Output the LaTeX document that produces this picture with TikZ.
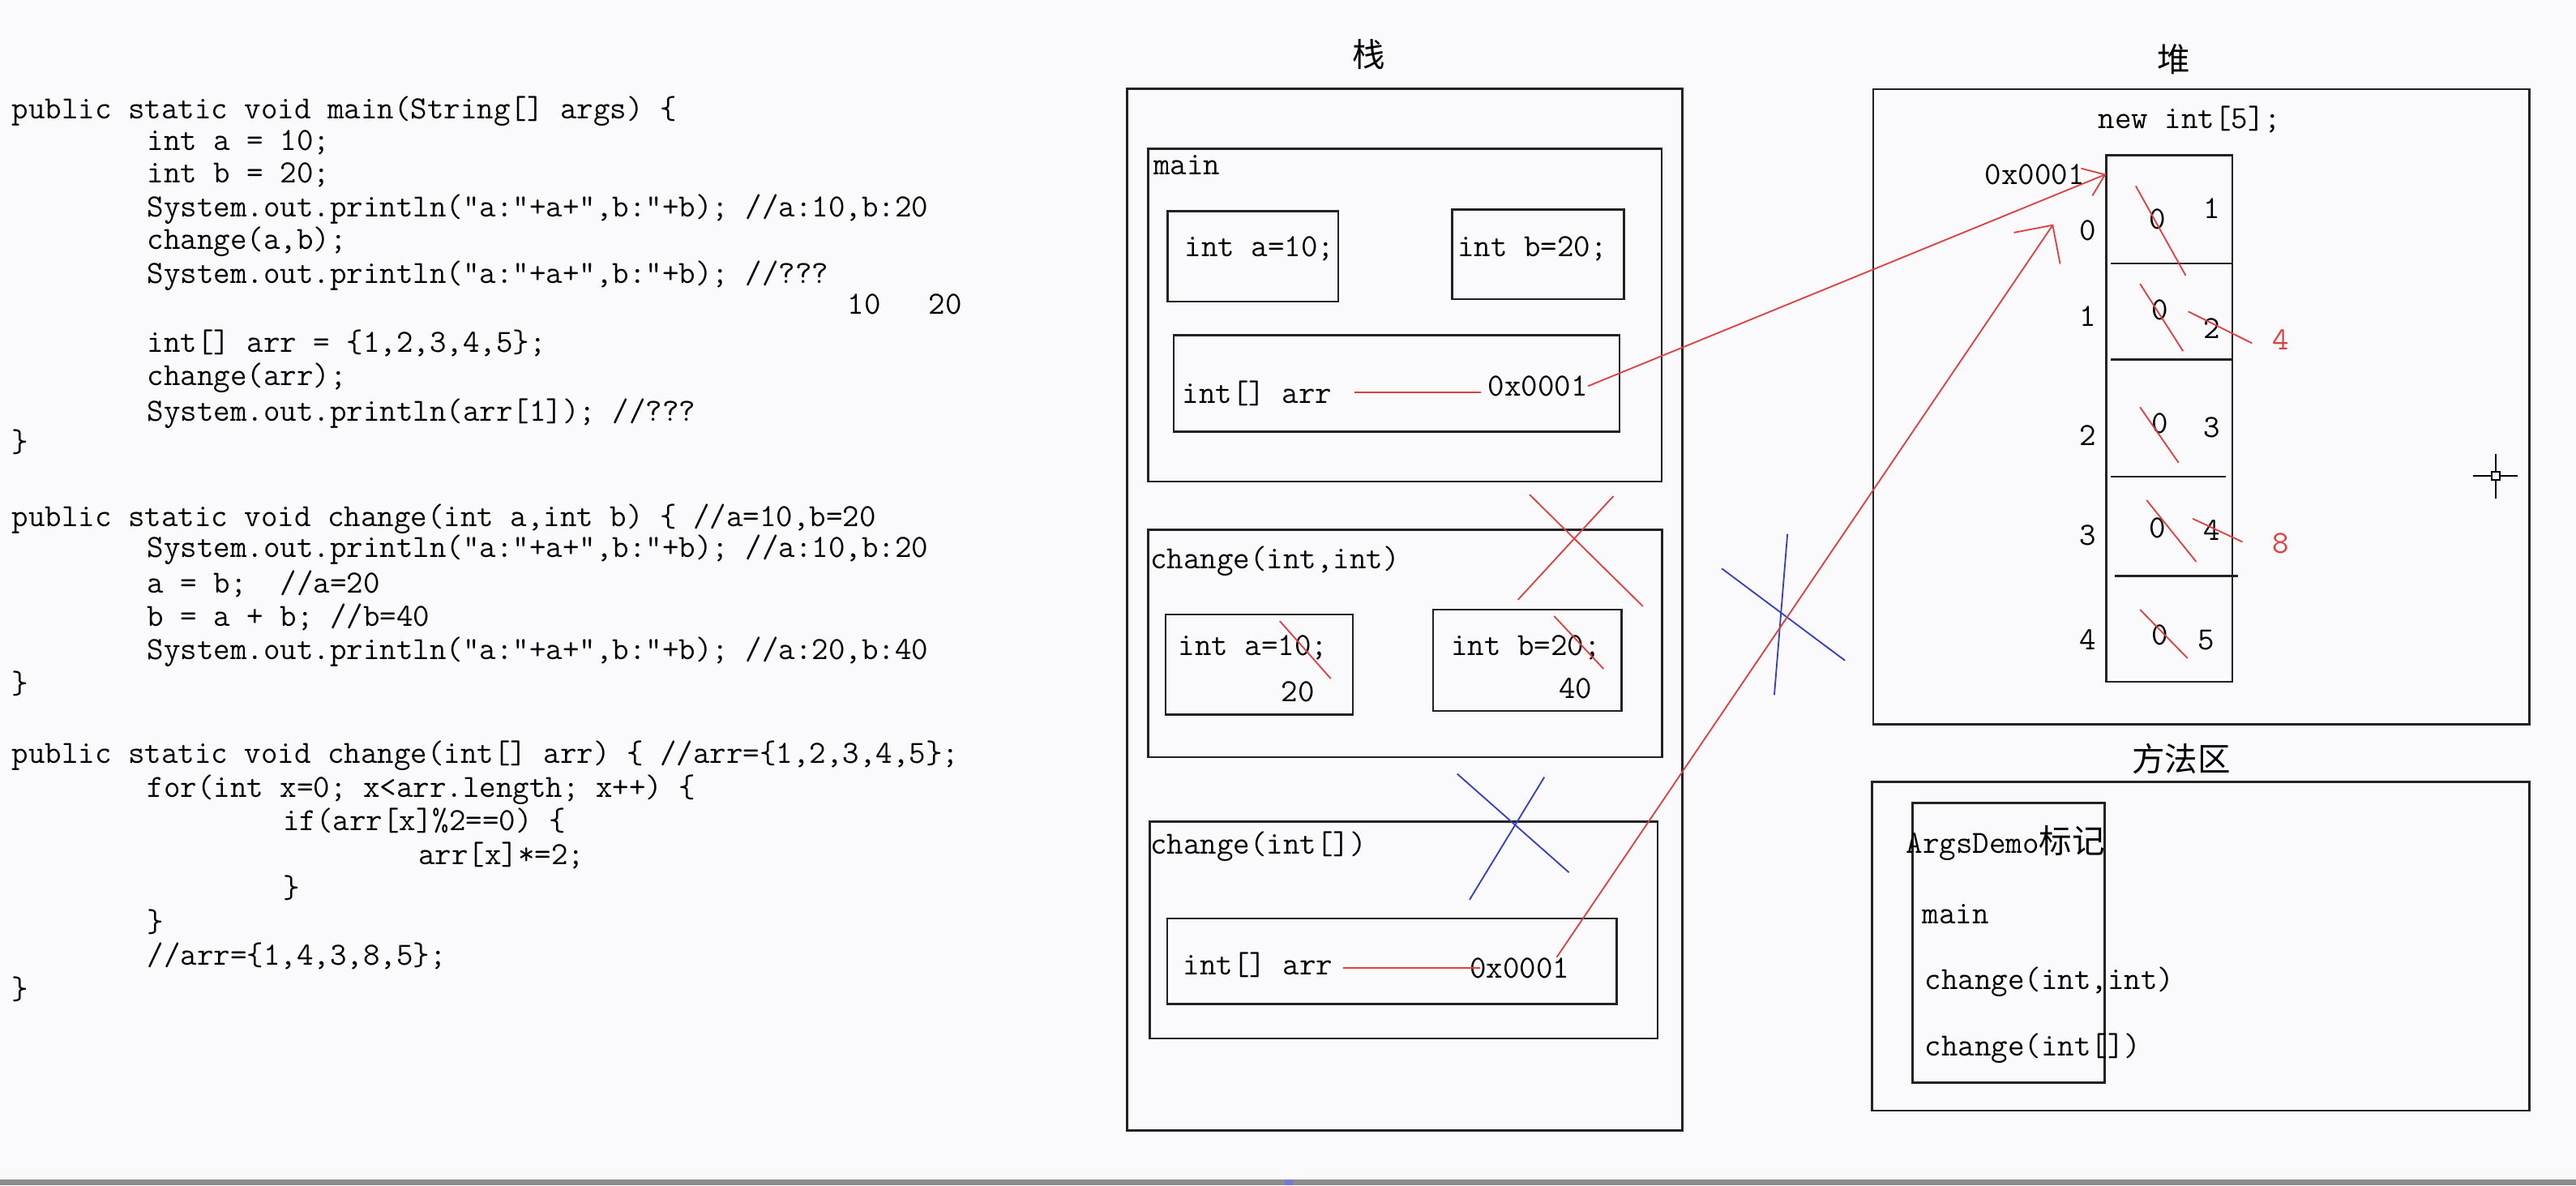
\documentclass[tikz,border=0pt]{standalone}
\usepackage{fontspec}
\usepackage{tikz}
\usetikzlibrary{arrows.meta}
\newfontfamily\cjk{Noto Sans CJK SC}
\definecolor{inkred}{RGB}{222,64,64}
\definecolor{inkblue}{RGB}{52,62,196}
\definecolor{paper}{RGB}{250,250,252}
\definecolor{barline}{RGB}{140,140,140}
\definecolor{frameline}{RGB}{34,34,34}
\newcommand{\codesize}{\fontsize{19.64}{20.5}\selectfont}
\newcommand{\titlesize}{\fontsize{20}{24}\selectfont}

\tikzset{
  code/.style={anchor=west, inner sep=0pt, text height=12.5pt, text depth=0pt, font=\ttfamily\codesize},
  val/.style={inner sep=0pt, text height=12.5pt, text depth=0pt, font=\ttfamily\codesize},
  title/.style={inner sep=0pt, font=\cjk\titlesize},
  frame/.style={draw=frameline, line width=1.3pt},
  redpen/.style={draw=inkred, line width=0.9pt},
  bluepen/.style={draw=inkblue, line width=0.9pt}
}

\begin{document}
\begin{tikzpicture}[x=1pt, y=-1pt]
  % page
  \useasboundingbox (0,0) rectangle (1568,721.4);
  \fill[paper] (0,0) rectangle (1568,721.4);
  \fill[barline] (0,718) rectangle (1568,721.4);
  \fill[inkblue!70] (782,718) rectangle (787,721.4);

  % source code
  \node[code] (main1) at (7,65.8) {public static void main(String[] args) \{};
  \node[code] (main2) at (89.5,85.5) {int a = 10;};
  \node[code] (main3) at (89.5,105.2) {int b = 20;};
  \node[code] (main4) at (89.5,125.8) {System.out.println("a:"+a+",b:"+b); //a:10,b:20};
  \node[code] (main5) at (89.5,145.5) {change(a,b);};
  \node[code] (main6) at (89.5,166.1) {System.out.println("a:"+a+",b:"+b); //???};
  \node[val] (guessa) at (526,185) {10};
  \node[val] (guessb) at (575.5,185) {20};
  \node[code] (main7) at (89.5,208) {int[] arr = \{1,2,3,4,5\};};
  \node[code] (main8) at (89.5,228.5) {change(arr);};
  \node[code] (main9) at (89.5,250) {System.out.println(arr[1]); //???};
  \node[code] (main10) at (7,269) {\}};

  \node[code] (chg1) at (7,314) {public static void change(int a,int b) \{ //a=10,b=20};
  \node[code] (chg2) at (89.5,333.2) {System.out.println("a:"+a+",b:"+b); //a:10,b:20};
  \node[code] (chg3) at (89.5,354.6) {a = b;\ \ //a=20};
  \node[code] (chg4) at (89.5,375) {b = a + b; //b=40};
  \node[code] (chg5) at (89.5,395.2) {System.out.println("a:"+a+",b:"+b); //a:20,b:40};
  \node[code] (chg6) at (7,416) {\}};

  \node[code] (arr1) at (7,458.3) {public static void change(int[] arr) \{ //arr=\{1,2,3,4,5\};};
  \node[code] (arr2) at (89.5,478.8) {for(int x=0; x<arr.length; x++) \{};
  \node[code] (arr3) at (172,499.3) {if(arr[x]\%2==0) \{};
  \node[code] (arr4) at (254.5,519.8) {arr[x]*=2;};
  \node[code] (arr5) at (172,540.3) {\}};
  \node[code] (arr6) at (89.5,560.8) {\}};
  \node[code] (arr7) at (89.5,581.3) {//arr=\{1,4,3,8,5\};};
  \node[code] (arr8) at (7,601.8) {\}};

  % stack
  \node[title] (stacktitle) at (833,33) {栈};
  \draw[frame] (686,54) rectangle (1024,688);

  % main frame
  \draw[frame] (699,90.5) rectangle (1011.5,293);
  \node[code] (mainlbl) at (702,100) {main};
  \draw[frame] (710.6,128.6) rectangle (814.6,183.5);
  \node[code] (mainA) at (721,150) {int a=10;};
  \draw[frame] (884,127.6) rectangle (988.5,182);
  \node[code] (mainB) at (887,150) {int b=20;};
  \draw[frame] (714.5,204) rectangle (985.8,262.6);
  \node[code] (arrmain) at (719.5,239) {int[] arr};
  \node[code] (addrmain) at (905.5,235) {0x0001};
  \draw[redpen, shorten <=13.5pt, shorten >=4pt] (arrmain.east) -- (addrmain.west |- arrmain.east);

  % change(int,int) frame
  \draw[frame] (699,322.4) rectangle (1011.6,460.8);
  \node[code] (chglbl) at (700,340) {change(int,int)};
  \draw[frame] (709.5,374) rectangle (823.5,435);
  \node[code] (chgA) at (717,392.8) {int a=10;};
  \node[val] (chgAnew) at (790,421) {20};
  \draw[redpen] (779,378) -- (810,413);
  \draw[frame] (872.3,371) rectangle (987,432.7);
  \node[code] (chgB) at (883,392.8) {int b=20;};
  \node[val] (chgBnew) at (959,418.6) {40};
  \draw[redpen] (946,375) -- (976,407);
  % popped
  \draw[redpen] (931,301) -- (1000,369);
  \draw[redpen] (982,302) -- (924,365);

  % change(int[]) frame
  \draw[frame] (700,500) rectangle (1009,632);
  \node[code] (arrlbl) at (700,513.6) {change(int[])};
  \draw[frame] (710.5,559) rectangle (984,611);
  \node[code] (arrchg) at (720,587) {int[] arr};
  \node[code] (addrchg) at (894.5,589) {0x0001};
  \draw[redpen, shorten <=6pt, shorten >=-6.5pt] (arrchg.east |- addrchg.west) -- (addrchg.west);
  % popped
  \draw[bluepen] (887,471) -- (955,531);
  \draw[bluepen] (940,473) -- (894.5,547.6);
  \draw[bluepen] (1048,346) -- (1123,402);
  \draw[bluepen] (1088,325) -- (1080,423);

  % heap
  \node[title] (heaptitle) at (1323,36) {堆};
  \draw[frame] (1140.3,54.3) rectangle (1539.7,441);
  \node[code] (newarr) at (1277,72) {new int[5];};
  \node[code] (addrheap) at (1208,106) {0x0001};
  \draw[frame] (1282,94.6) rectangle (1358.7,415);
  \draw[frame] (1285,160.3) -- (1358.7,160.3);
  \draw[frame] (1285,218.8) -- (1358.7,218.8);
  \draw[frame] (1285,290.1) -- (1355,290.1);
  \draw[frame] (1287,350.4) -- (1362,350.4);
  \coordinate (tip1) at (1282,106);
  \coordinate (tip2) at (1249.8,136.5);

  \node[val] (idx0) at (1270.6,140) {0};
  \node[val] (idx1) at (1270.6,192.4) {1};
  \node[val] (idx2) at (1270.6,264.7) {2};
  \node[val] (idx3) at (1270.6,325.6) {3};
  \node[val] (idx4) at (1270.6,389.3) {4};

  \node[val] (old0) at (1313.3,133) {0};
  \node[val] (old1) at (1314.7,188.3) {0};
  \node[val] (old2) at (1314.7,257.5) {0};
  \node[val] (old3) at (1313.3,321) {0};
  \node[val] (old4) at (1314.7,386.3) {0};
  \node[val] (new0) at (1346.2,126.8) {1};
  \node[val] (new1) at (1346.2,199.6) {2};
  \node[val] (new2) at (1346.2,259.9) {3};
  \node[val] (new3) at (1346.2,322.6) {4};
  \node[val] (new4) at (1342.7,389.3) {5};
  \node[val, text=inkred] (twice1) at (1388.2,206.7) {4};
  \node[val, text=inkred] (twice3) at (1388.2,330.7) {8};

  % crossed out values
  \draw[redpen] (1300,113.2) -- (1330.4,167.7);
  \draw[redpen] (1302.6,172.7) -- (1328.8,213.7);
  \draw[redpen] (1302.6,247.8) -- (1326.1,281.7);
  \draw[redpen] (1306.6,304.4) -- (1336.8,341.9);
  \draw[redpen] (1302.6,371) -- (1331.5,400.6);
  \draw[redpen] (1332,189.6) -- (1370.8,208.9);
  \draw[redpen] (1334.7,315.7) -- (1364.9,329.8);

  % references
  \draw[redpen, -{Straight Barb[length=12pt,width=18pt]}] (addrmain.east) -- (tip1);
  \draw[redpen, -{Straight Barb[length=17pt,width=34pt]}] ([xshift=-8pt]addrchg.north east) -- (tip2);

  % cursor
  \draw[line width=1pt] (1505.5,289.7) -- (1532.6,289.7);
  \draw[line width=1pt] (1519,276.3) -- (1519,303.4);
  \draw[line width=1pt, fill=paper] (1516.5,287.2) rectangle (1521.5,292.2);

  % method area
  \node[title] (methodtitle) at (1327.8,462) {方法区};
  \draw[frame] (1139.5,476) rectangle (1539.7,676);
  \draw[frame] (1164,488.7) rectangle (1281,659);
  \node[code] (classlbl) at (1160,513) {ArgsDemo{\cjk\titlesize 标记}};
  \node[code] (mmain) at (1170,555.8) {main};
  \node[code] (mchg) at (1171.5,596) {change(int,int)};
  \node[code] (mchgarr) at (1171.5,636.4) {change(int[])};
\end{tikzpicture}
\end{document}
